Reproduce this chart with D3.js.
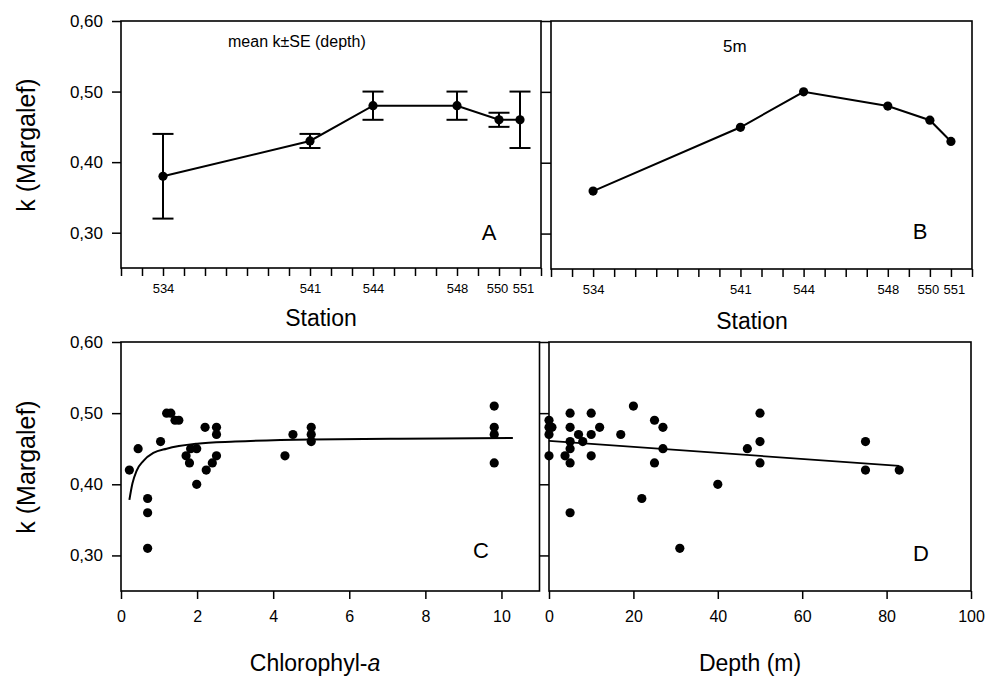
<!DOCTYPE html>
<html>
<head>
<meta charset="utf-8">
<script src="https://cdn.jsdelivr.net/npm/d3@7"></script>
<style>
	body { margin: 0; background: #fff; }
	svg { font-family: "Liberation Sans", Arial, Helvetica, sans-serif; }
</style>
</head>
<body>
<script>
// panel A / B : stations
const stations = [534, 541, 544, 548, 550, 551];
const meanK = [0.38, 0.43, 0.48, 0.48, 0.46, 0.46];
const seLow = [0.32, 0.42, 0.46, 0.46, 0.45, 0.42];
const seHigh = [0.44, 0.44, 0.50, 0.50, 0.47, 0.50];
const k5m = [0.36, 0.45, 0.50, 0.48, 0.46, 0.43];

// panel C : chlorophyll-a vs k
const chlA = [0.22, 0.45, 0.70, 0.70, 0.70, 1.04, 1.20, 1.31, 1.42, 1.52, 1.71, 1.80, 1.83, 1.99, 1.99,
	2.21, 2.24, 2.40, 2.51, 2.51, 2.51, 4.31, 4.52, 5.0, 5.0, 5.0, 9.81, 9.81, 9.81, 9.81];
const kChl = [0.42, 0.45, 0.38, 0.36, 0.31, 0.46, 0.50, 0.50, 0.49, 0.49, 0.44, 0.43, 0.45, 0.45, 0.40,
	0.48, 0.42, 0.43, 0.48, 0.47, 0.44, 0.44, 0.47, 0.48, 0.47, 0.46, 0.51, 0.48, 0.47, 0.43];
// fitted curve
const chlFit = [[0.22, 0.378], [0.30, 0.401], [0.41, 0.419], [0.59, 0.433], [0.85, 0.444], [1.2, 0.450],
	[2.0, 0.457], [3.0, 0.460], [5.0, 0.463], [7.3, 0.464], [10.3, 0.465]];

// panel D : depth vs k
const depth = [0, 0, 0.7, 0, 0, 3.8, 5, 5, 5, 5, 5, 5, 7, 8, 10, 10, 10, 12, 17, 20, 22, 25, 25, 27, 27,
	31, 40, 47, 50, 50, 50, 75, 75, 83];
const kDepth = [0.49, 0.48, 0.48, 0.47, 0.44, 0.44, 0.50, 0.48, 0.46, 0.45, 0.43, 0.36, 0.47, 0.46, 0.50, 0.47, 0.44,
	0.48, 0.47, 0.51, 0.38, 0.49, 0.43, 0.48, 0.45, 0.31, 0.40, 0.45, 0.50, 0.46, 0.43, 0.46, 0.42, 0.42];
const depthFit = [[0, 0.461], [83, 0.426]];

const kTicks = [0.30, 0.40, 0.50, 0.60];
const stationTicks = d3.range(532, 553);
const chlTicks = [0, 2, 4, 6, 8, 10];
const depthTicks = [0, 20, 40, 60, 80, 100];

let width = 988, height = 684;

let svg = d3.select("body").append("svg")
	.attr("width", width)
	.attr("height", height);

let fmtK = d => d3.format(".2f")(d).replace(".", ",");

// labels 550 and 551 sit a little apart in the original
let labelShift = {550: -2, 551: 3};

let panel = (box, x, y, opts) => {
	let g = svg.append("g");

	// x axis
	g.append("g")
		.attr("transform", `translate(0,${box.y1})`)
		.call(d3.axisBottom(x)
			.tickValues(opts.xTicks)
			.tickSizeInner(8)
			.tickSizeOuter(0)
			.tickPadding(opts.xPad)
			.tickFormat(opts.xFormat))
		.call(a => a.select(".domain").remove())
		.call(a => a.selectAll(".tick line").attr("stroke-width", 1.5))
		.call(a => a.selectAll(".tick text")
			.attr("fill", "#000")
			.attr("dx", d => labelShift[d] && opts.shift ? labelShift[d] : 0)
			.attr("font-family", "Liberation Sans, Arial, sans-serif")
			.attr("font-size", opts.xFont));

	// y axis
	g.append("g")
		.attr("transform", `translate(${box.x0},0)`)
		.call(d3.axisLeft(y)
			.tickValues(kTicks)
			.tickSizeInner(opts.yTick)
			.tickSizeOuter(0)
			.tickPadding(9)
			.tickFormat(opts.yLabels ? fmtK : ""))
		.call(a => a.select(".domain").remove())
		.call(a => a.selectAll(".tick line").attr("stroke-width", 1.5))
		.call(a => a.selectAll(".tick text")
			.attr("fill", "#000")
			.attr("font-family", "Liberation Sans, Arial, sans-serif")
			.attr("font-size", 17));

	// frame
	g.append("rect")
		.attr("x", box.x0)
		.attr("y", box.y0)
		.attr("width", box.x1 - box.x0)
		.attr("height", box.y1 - box.y0)
		.attr("fill", "none")
		.attr("stroke", "#000")
		.attr("stroke-width", 1.6);

	g.append("text")
		.attr("x", opts.letter[1])
		.attr("y", opts.letter[2])
		.attr("text-anchor", "middle")
		.attr("dominant-baseline", "central")
		.attr("font-size", 22)
		.text(opts.letter[0]);

	return g;
};

// ---- A ----
let boxA = {x0: 121, x1: 541, y0: 21, y1: 268};
let xA = d3.scaleLinear().domain([532, 552]).range([boxA.x0, boxA.x1]);
let yA = d3.scaleLinear().domain([0.25, 0.60]).range([boxA.y1, boxA.y0]);
let gA = panel(boxA, xA, yA, {
	xTicks: stationTicks, xPad: 8, xFont: 13, yTick: 9, yLabels: true, shift: true,
	xFormat: d => stations.includes(d) ? d : "",
	letter: ["A", 489, 232]
});

let rowsA = stations.map((s, i) => ({s: s, k: meanK[i], lo: seLow[i], hi: seHigh[i]}));

gA.append("path")
	.datum(rowsA)
	.attr("d", d3.line().x(d => xA(d.s)).y(d => yA(d.k)))
	.attr("fill", "none")
	.attr("stroke", "#000")
	.attr("stroke-width", 2);

let bars = gA.selectAll(".err")
	.data(rowsA)
	.enter().append("g")
	.attr("class", "err")
	.attr("stroke", "#000")
	.attr("stroke-width", 2);

bars.append("line")
	.attr("x1", d => xA(d.s)).attr("x2", d => xA(d.s))
	.attr("y1", d => yA(d.lo)).attr("y2", d => yA(d.hi));
bars.append("line")
	.attr("x1", d => xA(d.s) - 10.5).attr("x2", d => xA(d.s) + 10.5)
	.attr("y1", d => yA(d.lo)).attr("y2", d => yA(d.lo));
bars.append("line")
	.attr("x1", d => xA(d.s) - 10.5).attr("x2", d => xA(d.s) + 10.5)
	.attr("y1", d => yA(d.hi)).attr("y2", d => yA(d.hi));

gA.selectAll(".dot")
	.data(rowsA)
	.enter().append("circle")
	.attr("cx", d => xA(d.s))
	.attr("cy", d => yA(d.k))
	.attr("r", 4.6);

gA.append("text")
	.attr("x", 228)
	.attr("y", 47)
	.attr("font-size", 16)
	.text("mean k±SE (depth)");

// ---- B ----
let boxB = {x0: 551, x1: 972, y0: 21, y1: 269};
let xB = d3.scaleLinear().domain([532, 552]).range([boxB.x0, boxB.x1]);
let yB = d3.scaleLinear().domain([0.25, 0.60]).range([boxB.y1, boxB.y0]);
let gB = panel(boxB, xB, yB, {
	xTicks: stationTicks, xPad: 8, xFont: 13, yTick: 10, yLabels: false, shift: true,
	xFormat: d => stations.includes(d) ? d : "",
	letter: ["B", 920, 231]
});

let rowsB = stations.map((s, i) => ({s: s, k: k5m[i]}));

gB.append("path")
	.datum(rowsB)
	.attr("d", d3.line().x(d => xB(d.s)).y(d => yB(d.k)))
	.attr("fill", "none")
	.attr("stroke", "#000")
	.attr("stroke-width", 2);

gB.selectAll(".dot")
	.data(rowsB)
	.enter().append("circle")
	.attr("cx", d => xB(d.s))
	.attr("cy", d => yB(d.k))
	.attr("r", 4.6);

gB.append("text")
	.attr("x", 723)
	.attr("y", 52)
	.attr("font-size", 17)
	.text("5m");

// ---- C ----
let boxC = {x0: 121, x1: 539.5, y0: 342, y1: 591};
let xC = d3.scaleLinear().domain([0, 11]).range([boxC.x0, boxC.x1]);
let yC = d3.scaleLinear().domain([0.25, 0.60]).range([boxC.y1, boxC.y0]);
let gC = panel(boxC, xC, yC, {
	xTicks: chlTicks, xPad: 12, xFont: 16, yTick: 9, yLabels: true, shift: false,
	xFormat: d => d,
	letter: ["C", 481, 550]
});

gC.append("path")
	.datum(chlFit)
	.attr("d", d3.line().x(d => xC(d[0])).y(d => yC(d[1])).curve(d3.curveMonotoneX))
	.attr("fill", "none")
	.attr("stroke", "#000")
	.attr("stroke-width", 2);

gC.selectAll(".dot")
	.data(chlA.map((c, i) => [c, kChl[i]]))
	.enter().append("circle")
	.attr("cx", d => xC(d[0]))
	.attr("cy", d => yC(d[1]))
	.attr("r", 4.6);

// ---- D ----
let boxD = {x0: 549, x1: 971, y0: 342, y1: 591};
let xD = d3.scaleLinear().domain([0, 100]).range([boxD.x0, boxD.x1]);
let yD = d3.scaleLinear().domain([0.25, 0.60]).range([boxD.y1, boxD.y0]);
let gD = panel(boxD, xD, yD, {
	xTicks: depthTicks, xPad: 12, xFont: 16, yTick: 9, yLabels: false, shift: false,
	xFormat: d => d,
	letter: ["D", 921, 553]
});

gD.append("path")
	.datum(depthFit)
	.attr("d", d3.line().x(d => xD(d[0])).y(d => yD(d[1])))
	.attr("fill", "none")
	.attr("stroke", "#000")
	.attr("stroke-width", 1.8);

gD.selectAll(".dot")
	.data(depth.map((m, i) => [m, kDepth[i]]))
	.enter().append("circle")
	.attr("cx", d => xD(d[0]))
	.attr("cy", d => yD(d[1]))
	.attr("r", 4.6);

// ---- axis titles ----
let titles = [
	{t: "Station", x: 321, y: 318},
	{t: "Station", x: 752, y: 321},
	{t: "Depth (m)", x: 750, y: 663}
];
svg.selectAll(".title")
	.data(titles)
	.enter().append("text")
	.attr("x", d => d.x)
	.attr("y", d => d.y)
	.attr("text-anchor", "middle")
	.attr("dominant-baseline", "central")
	.attr("font-size", 23)
	.text(d => d.t);

let chlTitle = svg.append("text")
	.attr("x", 315)
	.attr("y", 663)
	.attr("text-anchor", "middle")
	.attr("dominant-baseline", "central")
	.attr("font-size", 23)
	.text("Chlorophyl-");
chlTitle.append("tspan")
	.attr("font-style", "italic")
	.text("a");

[145, 467].forEach(cy => {
	svg.append("text")
		.attr("transform", `translate(26,${cy}) rotate(-90)`)
		.attr("text-anchor", "middle")
		.attr("dominant-baseline", "central")
		.attr("font-size", 25)
		.text("k (Margalef)");
});
</script>
</body>
</html>
